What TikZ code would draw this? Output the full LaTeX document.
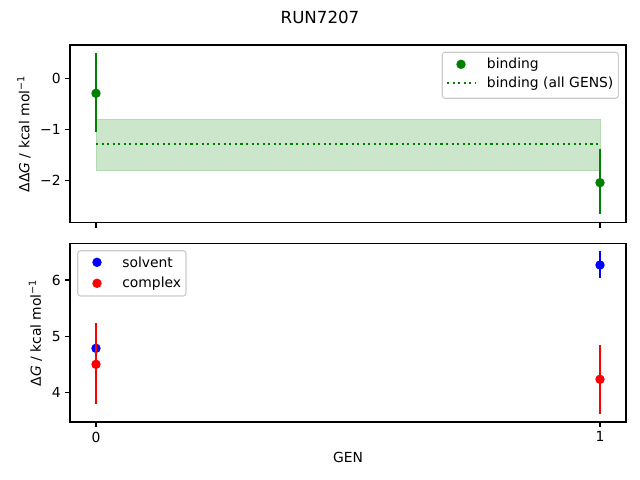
\documentclass[tikz,border=0pt]{standalone}
\usepackage{fontspec}
\setmainfont{DejaVu Sans}
\definecolor{mgreen}{RGB}{0,128,0}
\definecolor{bandfill}{RGB}{204,230,204}
\definecolor{bandedge}{RGB}{180,218,180}
\definecolor{legedge}{RGB}{204,204,204}
\begin{document}
\begin{tikzpicture}[x=0.72pt, y=-0.72pt,
	every node/.style={font=\fontsize{10}{12}\selectfont, inner sep=0pt},
	frame/.style={draw=black, line width=0.8pt},
	tick/.style={draw=black, line width=0.8pt},
	errbar/.style={line width=1.5pt, draw=#1},
	dot/.style={circle, fill=#1, minimum size=6.8pt, inner sep=0pt},
	legbox/.style={draw=legedge, fill=white, rounded corners=2pt, line width=0.8pt}]
	\useasboundingbox (0,0) rectangle (640,480);
	
	\node (title) at (320,17) {\fontsize{12}{14}\selectfont RUN7207};
	
	% top panel
	\path[fill=bandfill, draw=bandedge] (96,119) rectangle (600,170.7);
	\draw[mgreen, line width=1.5pt, dash pattern=on 1.5pt off 2.5pt] (96,144) -- (600,144);
	\draw[errbar=mgreen] (96,53.3) -- (96,131.7);
	\node[dot=mgreen] (g0) at (96,93.3){};
	\draw[errbar=mgreen] (600,149) -- (600,214.3);
	\node[dot=mgreen] (g1) at (600,182.7){};
	\draw[frame] (70,45) rectangle (626,222.7);
	\foreach \x in {96,600}
		\draw[tick] (\x,222.7) -- (\x,227.6);
	\foreach \y/\t in {78.3/0, 129.3/−1, 180.3/−2}{
		\draw[tick] (70,\y) -- (65.1,\y);
		\node[anchor=east] at (61,\y) {\t};
	}
	\node[rotate=90] (ylab1) at (24,133.9) {ΔΔ\textit{G} / kcal mol\textsuperscript{−1}};
	
	\path[legbox] (442.3,52.3) rectangle (618.3,98.3);
	\node[dot=mgreen] (lg1) at (461,64.3){};
	\draw[mgreen, line width=1.5pt, dash pattern=on 1.5pt off 2.5pt] (447,83.3) -- (475,83.3);
	\node[anchor=west] (lt1) at (486.7,64.3) {binding};
	\node[anchor=west] (lt2) at (486.7,83.3) {binding (all GENS)};
	
	% bottom panel
	\draw[errbar=blue] (96,344) -- (96,352.6);
	\node[dot=blue] (b0) at (96,348.3){};
	\draw[errbar=blue] (600,251) -- (600,277.7);
	\node[dot=blue] (b1) at (600,265){};
	\draw[errbar=red] (96,323.3) -- (96,404.3);
	\node[dot=red] (r0) at (96,364.3){};
	\draw[errbar=red] (600,345) -- (600,413.7);
	\node[dot=red] (r1) at (600,379.3){};
	\draw[frame] (70,243.3) rectangle (626,422);
	\foreach \x/\t in {96/0, 600/1}{
		\draw[tick] (\x,422) -- (\x,426.9);
		\node[anchor=north] at (\x,431.5) {\t};
	}
	\foreach \y/\t in {280/6, 336.3/5, 392.6/4}{
		\draw[tick] (70,\y) -- (65.1,\y);
		\node[anchor=east] at (61,\y) {\t};
	}
	\node[rotate=90] (ylab2) at (35.5,332.7) {Δ\textit{G} / kcal mol\textsuperscript{−1}};
	\node (xlab) at (348,457) {GEN};
	
	\path[legbox] (77.7,250.7) rectangle (186,296);
	\node[dot=blue] (lb) at (97,262.3){};
	\node[dot=red] (lr) at (97,283.3){};
	\node[anchor=west] (ls) at (122,262.3) {solvent};
	\node[anchor=west] (lc) at (122,283.3) {complex};
\end{tikzpicture}
\end{document}
